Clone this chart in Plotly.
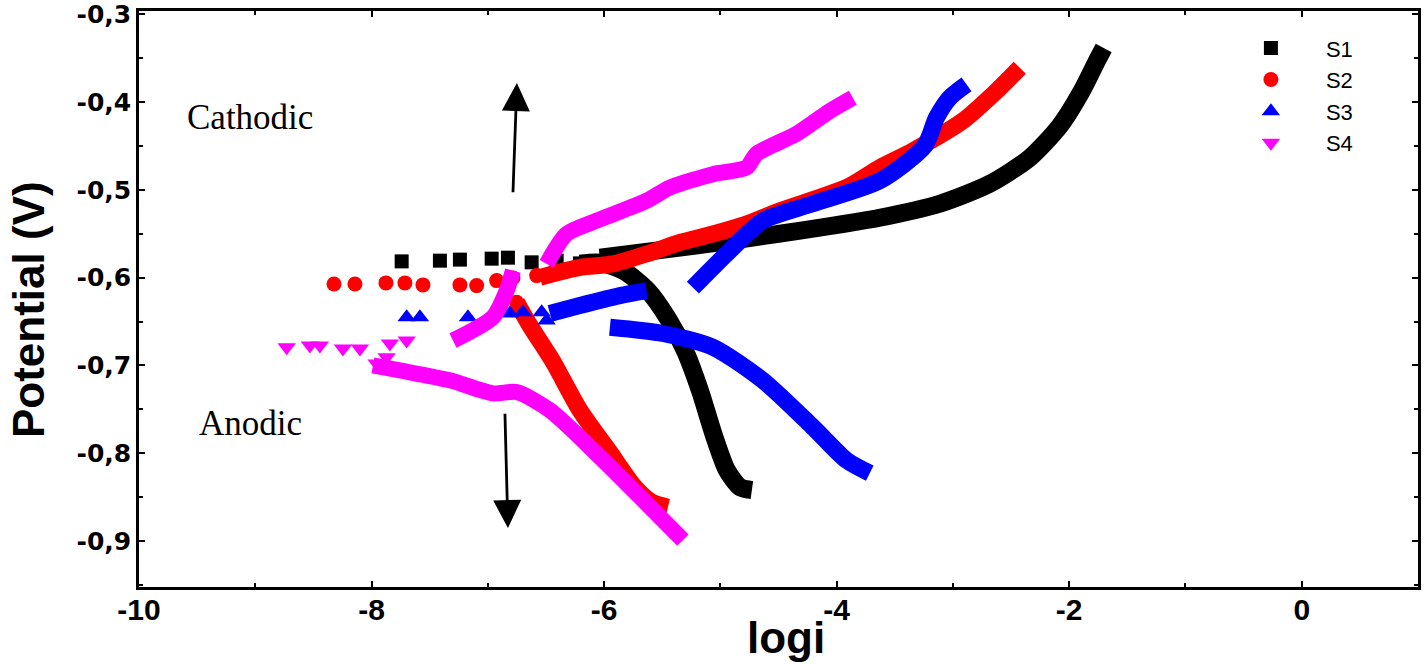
import plotly.graph_objects as go

# ---------------- data ----------------
# S1 (black squares)
S1_PTS_X = [-7.741, -7.412, -7.240, -6.967, -6.827, -6.623, -6.408, -6.208, -5.978]
S1_PTS_Y = [-0.5815, -0.5807, -0.5795, -0.5784, -0.5773, -0.5826, -0.5807, -0.5838, -0.5761]
S1_UP_X = [-6.036, -5.348, -4.488, -3.629, -3.113, -2.683, -2.339, -2.081, -1.892, -1.771, -1.703]
S1_UP_Y = [-0.5773, -0.5659, -0.5500, -0.5318, -0.5159, -0.4932, -0.4636, -0.4273, -0.3875, -0.3557, -0.3386]
S1_DN_X = [-6.208, -6.036, -5.821, -5.623, -5.451, -5.305, -5.176, -5.056, -4.944, -4.832, -4.729]
S1_DN_Y = [-0.5841, -0.5830, -0.5932, -0.6148, -0.6466, -0.6830, -0.7284, -0.7795, -0.8193, -0.8386, -0.8420]

# S2 (red circles)
S2_PTS_X = [-8.323, -8.143, -7.876, -7.713, -7.558, -7.240, -7.096, -6.924, -6.784, -6.752, -6.580]
S2_PTS_Y = [-0.6072, -0.6072, -0.6060, -0.6060, -0.6083, -0.6083, -0.6091, -0.6034, -0.6003, -0.6281, -0.5977]
S2_UP_X = [-6.552, -6.208, -5.924, -5.635, -5.348, -5.064, -4.775, -4.488, -3.915, -3.629, -3.345, -2.915, -2.625, -2.425]
S2_UP_Y = [-0.5997, -0.5883, -0.5844, -0.5731, -0.5599, -0.5503, -0.5390, -0.5239, -0.4974, -0.4747, -0.4557, -0.4216, -0.3875, -0.3610]
S2_DN_X = [-6.752, -6.638, -6.440, -6.208, -5.950, -5.735, -5.589, -5.451]
S2_DN_Y = [-0.6281, -0.6545, -0.6955, -0.7511, -0.7989, -0.8386, -0.8557, -0.8614]

# S3 (blue up-triangles)
S3_PTS_X = [-7.698, -7.584, -7.171, -6.810, -6.698, -6.537, -6.494]
S3_PTS_Y = [-0.6451, -0.6451, -0.6451, -0.6409, -0.6394, -0.6394, -0.6489]
S3_MID_X = [-6.466, -6.208, -5.864, -5.635]
S3_MID_Y = [-0.6409, -0.6318, -0.6205, -0.6148]
S3_UP_X = [-5.236, -4.918, -4.635, -4.205, -3.629, -3.242, -3.141, -3.027, -2.883]
S3_UP_Y = [-0.6114, -0.5693, -0.5352, -0.5159, -0.4898, -0.4500, -0.4178, -0.3951, -0.3799]
S3_DN_X = [-5.950, -5.494, -5.064, -4.635, -4.205, -3.915, -3.715]
S3_DN_Y = [-0.6565, -0.6636, -0.6792, -0.7170, -0.7701, -0.8080, -0.8227]

# S4 (magenta down-triangles)
S4_PTS_X = [-8.730, -8.530, -8.444, -8.246, -8.100, -7.842, -7.698, -7.870, -7.956]
S4_PTS_Y = [-0.6792, -0.6773, -0.6773, -0.6807, -0.6807, -0.6750, -0.6716, -0.6906, -0.6977]
S4_UP1_X = [-7.300, -6.956, -6.838, -6.784]
S4_UP1_Y = [-0.6716, -0.6451, -0.6148, -0.5920]
S4_UP2_X = [-6.494, -6.322, -6.064, -5.635, -5.434, -5.064, -4.775, -4.689, -4.346, -4.058, -3.861]
S4_UP2_Y = [-0.5844, -0.5503, -0.5352, -0.5125, -0.4974, -0.4822, -0.4747, -0.4591, -0.4364, -0.4102, -0.3951]
S4_DN_X = [-7.988, -7.756, -7.326, -6.956, -6.752, -6.466, -6.036, -5.606, -5.322]
S4_DN_Y = [-0.7000, -0.7057, -0.7170, -0.7318, -0.7303, -0.7511, -0.8042, -0.8610, -0.8989]

X_TICKS = [-10, -8, -6, -4, -2, 0]
X_TICK_TEXT = ["-10", "-8", "-6", "-4", "-2", "0"]
Y_TICKS = [-0.3, -0.4, -0.5, -0.6, -0.7, -0.8, -0.9]
Y_TICK_TEXT = ["-0,3", "-0,4", "-0,5", "-0,6", "-0,7", "-0,8", "-0,9"]

SERIES = [
    ("S1", "#000000", "square", 14, 18, (S1_PTS_X, S1_PTS_Y),
     [(S1_UP_X, S1_UP_Y), (S1_DN_X, S1_DN_Y)]),
    ("S2", "#ff0000", "circle", 15, 17, (S2_PTS_X, S2_PTS_Y),
     [(S2_UP_X, S2_UP_Y), (S2_DN_X, S2_DN_Y)]),
    ("S3", "#0000ff", "triangle-up", 16, 17, (S3_PTS_X, S3_PTS_Y),
     [(S3_MID_X, S3_MID_Y), (S3_UP_X, S3_UP_Y), (S3_DN_X, S3_DN_Y)]),
    ("S4", "#ff00ff", "triangle-down", 16, 16, (S4_PTS_X, S4_PTS_Y),
     [(S4_UP1_X, S4_UP1_Y), (S4_UP2_X, S4_UP2_Y), (S4_DN_X, S4_DN_Y)]),
]

fig = go.Figure()
for name, color, symbol, msize, lw, pts, branches in SERIES:
    for bx, by in branches:
        fig.add_trace(go.Scatter(
            x=bx, y=by, mode="lines", showlegend=False, legendgroup=name,
            line=dict(color=color, width=lw, shape="spline", smoothing=0.7),
            hoverinfo="skip"))
    fig.add_trace(go.Scatter(
        x=pts[0], y=pts[1], mode="markers", name=name, legendgroup=name,
        marker=dict(color=color, symbol=symbol, size=msize, line=dict(width=0))))

serif = "Liberation Serif, Times New Roman, serif"
narrow = "Liberation Sans Narrow, Arial Narrow, Liberation Sans, Arial, sans-serif"

annotations = [
    dict(x=-9.604, y=-0.418, xref="x", yref="y", text="Cathodic", showarrow=False,
         font=dict(family=serif, size=35, color="black"), xanchor="left", yanchor="middle"),
    dict(x=-9.501, y=-0.766, xref="x", yref="y", text="Anodic", showarrow=False,
         font=dict(family=serif, size=35, color="black"), xanchor="left", yanchor="middle"),
    dict(x=-6.750, y=-0.3784, ax=-6.784, ay=-0.5045, xref="x", yref="y", axref="x", ayref="y",
         text="", showarrow=True, arrowhead=2, arrowsize=2.0, arrowwidth=2.8, arrowcolor="black",
         standoff=0, startstandoff=0),
    dict(x=-6.827, y=-0.8852, ax=-6.853, ay=-0.7534, xref="x", yref="y", axref="x", ayref="y",
         text="", showarrow=True, arrowhead=2, arrowsize=2.0, arrowwidth=2.8, arrowcolor="black",
         standoff=0, startstandoff=0),
    dict(x=-0.0868, y=0.4826, xref="paper", yref="paper", text="<b>Potential (V)</b>",
         showarrow=False, textangle=-90, font=dict(family=narrow, size=44, color="black"),
         xanchor="center", yanchor="middle"),
    dict(x=0.506, y=-0.0875, xref="paper", yref="paper", text="<b>logi</b>",
         showarrow=False, font=dict(family="Liberation Sans, Arial, sans-serif", size=44, color="black"),
         xanchor="center", yanchor="middle"),
]

fig.update_layout(
    width=1424, height=664,
    margin=dict(l=139, r=6, t=11, b=77, autoexpand=False),
    paper_bgcolor="white", plot_bgcolor="white",
    showlegend=True,
    legend=dict(x=0.842, y=0.972, xanchor="left", yanchor="top",
                bgcolor="rgba(0,0,0,0)", borderwidth=0, itemwidth=100,
                font=dict(family="Liberation Sans, Arial, sans-serif", size=22, color="black"),
                tracegroupgap=0),
    annotations=annotations,
)

fig.update_xaxes(
    range=[-10, 1], tickvals=X_TICKS, ticktext=["<b>%s</b>" % t for t in X_TICK_TEXT],
    automargin=False,
    showgrid=False, zeroline=False, showline=True, linecolor="black", linewidth=2.5,
    mirror="ticks", ticks="inside", ticklen=6, tickcolor="black", tickwidth=1.5,
    minor=dict(ticks="inside", ticklen=4, dtick=1, tickcolor="black"),
    tickfont=dict(family=narrow, size=30, color="black"),
    ticklabelstandoff=-6, ticklabeloverflow="allow",
)
fig.update_yaxes(
    range=[-0.9523, -0.2964], tickvals=Y_TICKS, ticktext=["<b>%s</b>" % t for t in Y_TICK_TEXT],
    automargin=False,
    showgrid=False, zeroline=False, showline=True, linecolor="black", linewidth=2.5,
    mirror="ticks", ticks="inside", ticklen=6, tickcolor="black", tickwidth=1.5,
    minor=dict(ticks="inside", ticklen=4, dtick=0.05, tick0=-0.3, tickcolor="black"),
    tickfont=dict(family="DejaVu Sans, Verdana, sans-serif", size=25, color="black"),
    ticklabeloverflow="allow",
)

fig.write_html("out.html", config={"displayModeBar": False},
               post_script="document.body.style.margin='0px';")
